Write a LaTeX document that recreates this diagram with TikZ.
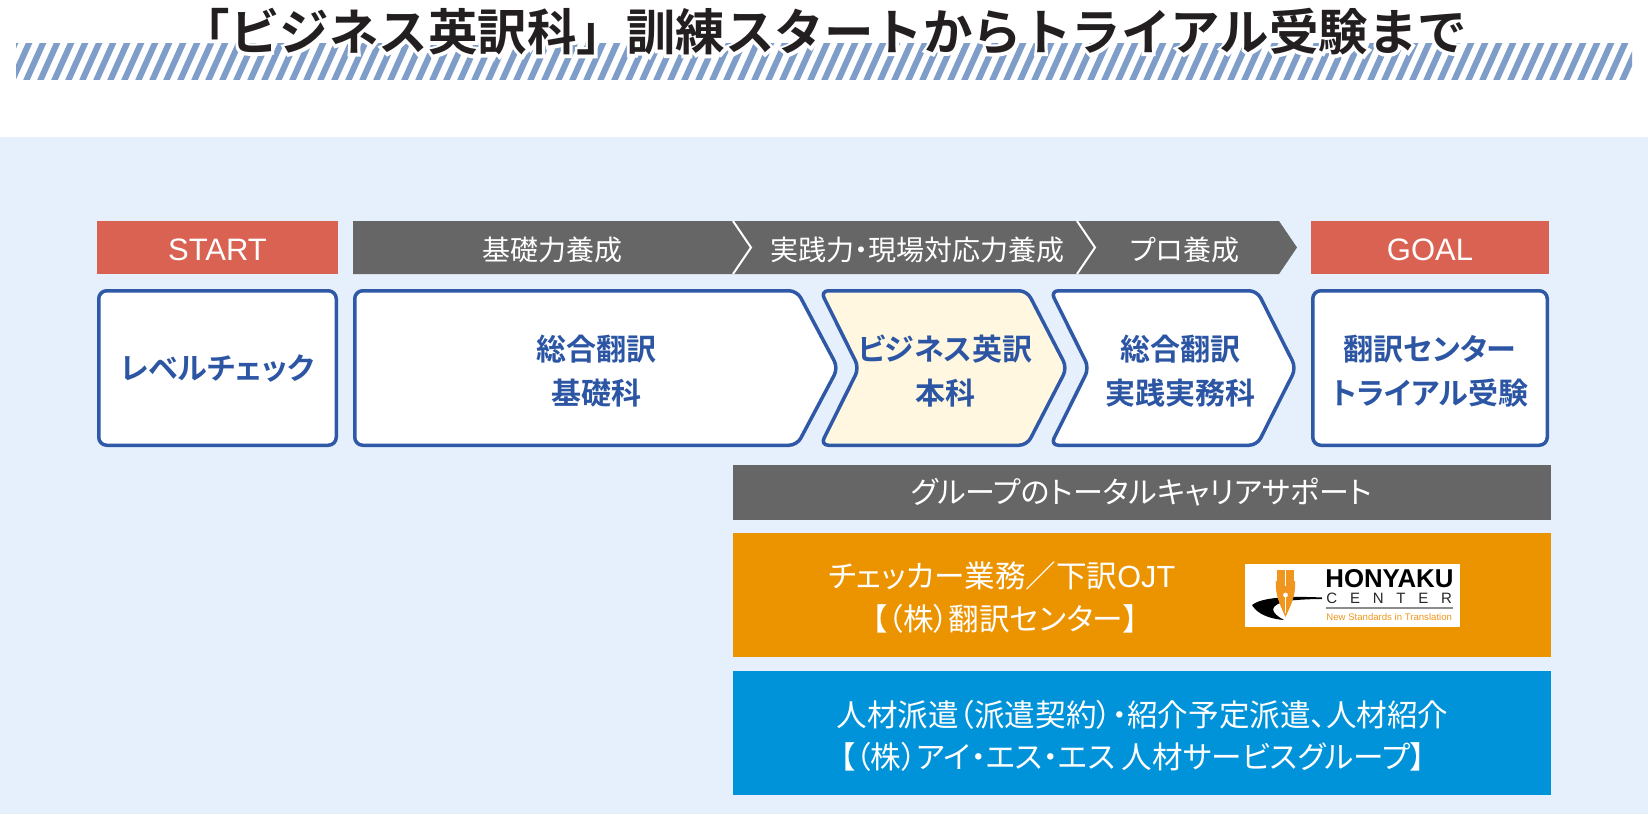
\documentclass[tikz,border=0pt]{standalone}
\usepackage{fontspec}
\newfontfamily\jp{Noto Sans CJK JP}[BoldFont={Noto Sans CJK JP Bold}]
\newfontfamily\jpp{Noto Sans CJK JP}[BoldFont={Noto Sans CJK JP Bold}, RawFeature=+palt]
\newfontfamily\jphalo{Noto Sans CJK JP Bold}[FakeBold=12]
\newfontfamily\lat{Liberation Sans}[BoldFont={Liberation Sans Bold}]
\definecolor{titlec}{HTML}{231F20}
\definecolor{hatchc}{HTML}{7E9DC8}
\definecolor{bgblue}{HTML}{E5F0FC}
\definecolor{redc}{HTML}{D96252}
\definecolor{grayc}{HTML}{666666}
\definecolor{boxblue}{HTML}{2F58A6}
\definecolor{boxtext}{HTML}{2C55A4}
\definecolor{creamc}{HTML}{FFF7E0}
\definecolor{orangec}{HTML}{EC9300}
\definecolor{bluec}{HTML}{0093D9}
\definecolor{nibc}{HTML}{F0961E}
\tikzset{
  lbl/.style={font=\jpp\fontsize{14pt}{14pt}\selectfont, text=white, inner sep=0pt},
  latlbl/.style={font=\lat\fontsize{15.5pt}{15.5pt}\selectfont, text=white, inner sep=0pt},
  boxtxt/.style={font=\jpp\bfseries\fontsize{15pt}{22pt}\selectfont, text=boxtext, align=center, inner sep=0pt},
  wtxt/.style={font=\jpp\fontsize{15.3pt}{15.3pt}\selectfont, text=white, inner sep=0pt},
  frame/.style={draw=boxblue, line width=1.75pt, rounded corners=4pt},
}
\begin{document}
\begin{tikzpicture}[x=0.5pt,y=-0.5pt]
\useasboundingbox (0,0) rectangle (1648,814);
\fill[white] (0,0) rectangle (1648,814);
\fill[bgblue] (0,137) rectangle (1648,814);
% hatched band
\begin{scope}
  \clip (16,43) rectangle (1632,79);
  \foreach \i in {0,...,119} {
    \draw[hatchc, line width=3pt] ({\i*14-2},81) -- ({\i*14+16},41);
  }
\end{scope}
% title with white halo
\node[font=\jphalo\fontsize{24.75pt}{24.75pt}\selectfont, text=white, inner sep=0pt] (titlehalo) at (824,32) {「ビジネス英訳科」訓練スタートからトライアル受験まで};
\node[font=\jp\bfseries\fontsize{24.75pt}{24.75pt}\selectfont, text=titlec, inner sep=0pt] (title) at (824,32) {「ビジネス英訳科」訓練スタートからトライアル受験まで};
% header row
\fill[redc] (97,221) rectangle (338,274);
\node[latlbl] (start) at (217.5,250) {START};
\fill[grayc] (353,221) -- (1279,221) -- (1297,247.5) -- (1279,274) -- (353,274) -- cycle;
\draw[white, line width=1pt] (733,221) -- (751,247.5) -- (733,274);
\draw[white, line width=1pt] (1077,221) -- (1095,247.5) -- (1077,274);
\node[lbl] (h1) at (552,250) {基礎力養成};
\node[lbl] (h2) at (917,250) {実践力・現場対応力養成};
\node[lbl] (h3) at (1185,250) {プロ養成};
\fill[redc] (1311,221) rectangle (1549,274);
\node[latlbl] (goal) at (1430,250) {GOAL};
% course row
\draw[frame, fill=white] (98.75,290.75) rectangle (336.25,445.25);
\node[boxtxt] (lc) at (217.5,368) {レベルチェック};
\draw[frame, fill=white] (354.75,290.75) -- (797,290.75) -- (838,368) -- (797,445.25) -- (354.75,445.25) -- cycle;
\node[boxtxt] (c1) at (596,371) {総合翻訳\\基礎科};
\draw[frame, fill=creamc] (820.5,290.75) -- (1027,290.75) -- (1067,368) -- (1027,445.25) -- (820.5,445.25) -- (859,368) -- cycle;
\node[boxtxt] (c2) at (945,371) {ビジネス英訳\\本科};
\draw[frame, fill=white] (1050.5,290.75) -- (1257,290.75) -- (1296,368) -- (1257,445.25) -- (1050.5,445.25) -- (1089,368) -- cycle;
\node[boxtxt] (c3) at (1180,371) {総合翻訳\\実践実務科};
\draw[frame, fill=white] (1312.75,290.75) rectangle (1547.25,445.25);
\node[boxtxt] (c4) at (1430,371) {翻訳センター\\トライアル受験};
% support
\fill[grayc] (733,465) rectangle (1551,520);
\node[lbl, font=\jpp\fontsize{15pt}{15pt}\selectfont] (sup) at (1141.5,492) {グループのトータルキャリアサポート};
\fill[orangec] (733,533) rectangle (1551,657);
\node[wtxt] (hc1) at (1002,576) {チェッカー業務／下訳{\lat OJT}};
\node[wtxt] (hc2) at (1005.5,619) {【（株）翻訳センター】};
\fill[bluec] (733,671) rectangle (1551,795);
\node[wtxt] (iss1) at (1142.5,715) {人材派遣（派遣契約）・紹介予定派遣、人材紹介};
\node[wtxt] (iss2) at (1133,757) {【（株）アイ・エス・エス 人材サービスグループ】};
% logo
\fill[white] (1245,564) rectangle (1460,627);
\fill[black] (1322,597.5) .. controls (1290,596) and (1262,597) .. (1252,605) .. controls (1257,614) and (1270,619) .. (1284,620) .. controls (1271,613) and (1266,605) .. (1290,600.5) .. controls (1302,599.5) and (1312,599) .. (1322,599) -- cycle;
\fill[nibc] (1277,570) rectangle (1294,581);
\fill[nibc] (1276,581) -- (1295,581) .. controls (1296,594) and (1292,603) .. (1285.5,617) .. controls (1279,603) and (1275,594) .. (1276,581) -- cycle;
\draw[white, line width=0.6pt] (1285.5,570) -- (1285.5,586);
\fill[white] (1285.5,595) circle (2.4);
\draw[white, line width=0.5pt] (1285.5,597) -- (1285.5,613);
\node[font=\lat\bfseries\fontsize{12.9pt}{12.9pt}\selectfont, text=black, anchor=base west, inner sep=0pt] (hon) at (1325,587.5) {HONYAKU};
\node[font=\lat\fontsize{7.5pt}{7.5pt}\selectfont, text=black!85, anchor=base west, inner sep=0pt] (cen) at (1326,603) {C\kern6.4pt E\kern6.4pt N\kern6.4pt T\kern6.4pt E\kern6.4pt R};
\draw[black!45, line width=0.8pt] (1326,608) -- (1453,608);
\node[font=\lat\fontsize{4.8pt}{4.8pt}\selectfont, text=nibc, anchor=base west, inner sep=0pt] (nst) at (1326,620) {New Standards in Translation};
\end{tikzpicture}
\end{document}
